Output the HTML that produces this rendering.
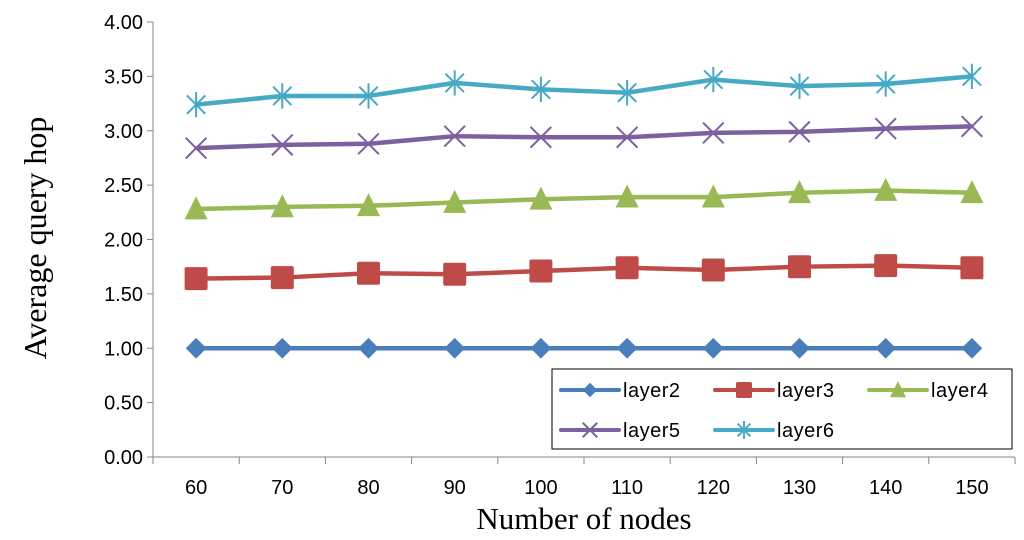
<!DOCTYPE html>
<html><head><meta charset="utf-8"><style>
body{margin:0;background:#fff;}
svg{display:block;}
</style></head><body>
<svg id="chart" width="1024" height="540" viewBox="0 0 1024 540"></svg>
<script>
const categories=[60,70,80,90,100,110,120,130,140,150];
const yTicks=[0,0.5,1,1.5,2,2.5,3,3.5,4];
const layer2=[1.00,1.00,1.00,1.00,1.00,1.00,1.00,1.00,1.00,1.00];
const layer3=[1.64,1.65,1.69,1.68,1.71,1.74,1.72,1.75,1.76,1.74];
const layer4=[2.28,2.30,2.31,2.34,2.37,2.39,2.39,2.43,2.45,2.43];
const layer5=[2.84,2.87,2.88,2.95,2.94,2.94,2.98,2.99,3.02,3.04];
const layer6=[3.24,3.32,3.32,3.44,3.38,3.35,3.47,3.41,3.43,3.50];
const seriesNames=["layer2","layer3","layer4","layer5","layer6"];

const NS="http://www.w3.org/2000/svg";
const svg=document.getElementById('chart');
const L=153,R=1015,T=22,B=457;
const bw=(R-L)/categories.length;
const xs=i=>L+bw*(i+0.5);
const ys=v=>B-(v/4)*(B-T);
function mk(tag,attrs,parent){const e=document.createElementNS(NS,tag);for(const k in attrs)e.setAttribute(k,attrs[k]);(parent||svg).appendChild(e);return e;}

let ax=mk('line',{x1:L,y1:T,x2:L,y2:B,stroke:'#868686','stroke-width':1});


let axx=mk('line',{x1:L,y1:B,x2:R,y2:B,stroke:'#868686','stroke-width':1});


yTicks.forEach(v=>{
 mk('line',{x1:L-6,y1:ys(v),x2:L,y2:ys(v),stroke:'#868686'});
 const t=mk('text',{x:L-10,y:ys(v)+7,'text-anchor':'end','font-family':'Liberation Sans, sans-serif','font-size':20,fill:'#000'});
 t.textContent=v.toFixed(2);
 
 
});
for(let i=0;i<=categories.length;i++)mk('line',{x1:L+bw*i,y1:B,x2:L+bw*i,y2:B+7,stroke:'#868686'});
categories.forEach((c,i)=>{
 const t=mk('text',{x:xs(i),y:B+37,'text-anchor':'middle','font-family':'Liberation Sans, sans-serif','font-size':20,fill:'#000'});
 t.textContent=c;
 
 
});
let yt=mk('text',{x:0,y:0,transform:'translate(46,238) rotate(-90)','text-anchor':'middle','font-family':'Liberation Serif, serif','font-size':32,fill:'#000'});
yt.textContent='Average query hop';


let xt=mk('text',{x:584,y:529,'text-anchor':'middle','font-family':'Liberation Serif, serif','font-size':31,fill:'#000'});
xt.textContent='Number of nodes';



const colors=['#4a7ebb','#be4b48','#98b954','#7d60a0','#46aac5'];
function marker(k,x,y,g,s){
 s=(s||1)*1.15;const c=colors[k];
 if(k===0)mk('polygon',{points:`${x},${y-9*s} ${x+9*s},${y} ${x},${y+9*s} ${x-9*s},${y}`,fill:c},g);
 else if(k===1)mk('rect',{x:x-10*s,y:y-10*s,width:20*s,height:20*s,fill:c,rx:2},g);
 else if(k===2)mk('polygon',{points:`${x},${y-11*s} ${x+10*s},${y+9*s} ${x-10*s},${y+9*s}`,fill:c},g);
 else if(k===3){mk('path',{d:`M${x-9*s},${y-9*s}L${x+9*s},${y+9*s}M${x+9*s},${y-9*s}L${x-9*s},${y+9*s}`,stroke:c,'stroke-width':2},g);}
 else {mk('path',{d:`M${x-8*s},${y-8*s}L${x+8*s},${y+8*s}M${x+8*s},${y-8*s}L${x-8*s},${y+8*s}M${x},${y-11*s}L${x},${y+11*s}`,stroke:c,'stroke-width':2},g);}
}
[layer2,layer3,layer4,layer5,layer6].forEach((d,k)=>{
 const g=mk('g',{});
 
 
 mk('polyline',{points:d.map((v,i)=>xs(i)+','+ys(v)).join(' '),fill:'none',stroke:colors[k],'stroke-width':4.5,'stroke-linejoin':'round'},g);
 d.forEach((v,i)=>marker(k,xs(i),ys(v),g));
});
const lg=mk('g',{});


mk('rect',{x:552,y:369,width:460,height:80,fill:'#fff',stroke:'#000','stroke-width':1},lg);
const pos=[[561,390],[715,390],[869,390],[561,430],[715,430]];
seriesNames.forEach((n,k)=>{
 const [x,y]=pos[k];
 const e=mk('g',{},lg);
 
 
 mk('line',{x1:x,y1:y,x2:x+58,y2:y,stroke:colors[k],'stroke-width':4,'stroke-linecap':'round'},e);
 marker(k,x+29,y,e,0.7);
 const t=mk('text',{x:x+62,y:y+7,'font-family':'Liberation Sans, sans-serif','font-size':20,'letter-spacing':'0.5',fill:'#000'},e);
 t.textContent=n;
});
</script>
</body></html>
